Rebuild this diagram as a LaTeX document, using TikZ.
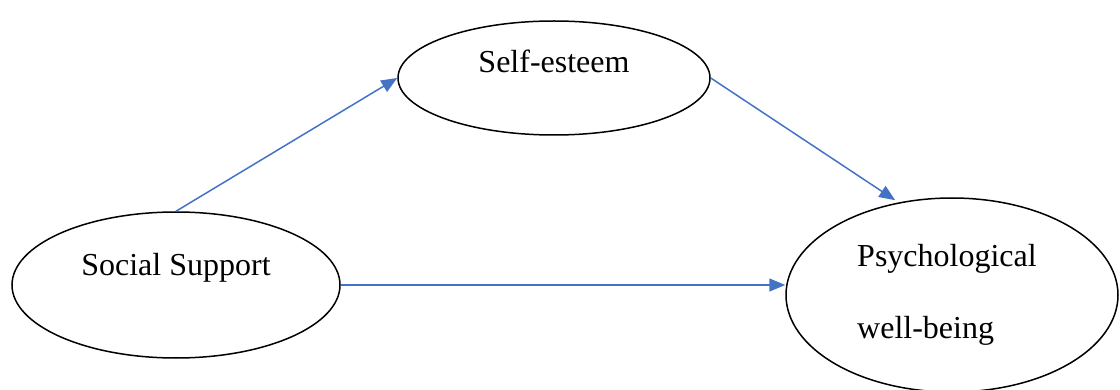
\documentclass[tikz,border=0pt]{standalone}
\usepackage{fontspec}
\setmainfont{Liberation Serif}
\usetikzlibrary{shapes.geometric,arrows.meta}
\begin{document}
\begin{tikzpicture}[x=1pt,y=-1pt,
  oval/.style={draw=black,line width=1.5pt,ellipse,inner sep=0pt},
  lbl/.style={font=\fontsize{32}{36}\selectfont,inner sep=0pt},
  conn/.style={draw={rgb,255:red,68;green,114;blue,196},line width=1.5pt,
    -{Triangle[length=16pt,width=13pt]}}]
\useasboundingbox (0,0) rectangle (1120,390);
\node[oval,minimum width=312pt,minimum height=114pt] (se) at (554,78) {};
\node[oval,minimum width=328pt,minimum height=146pt] (ss) at (176,285) {};
\node[oval,minimum width=332pt,minimum height=194pt] (pw) at (952,295) {};
\node[lbl] (tse) at (554,61) {Self-esteem};
\node[lbl] (tss) at (176,268) {Social Support};
\node[lbl,anchor=base west] (tp1) at (857,267) {Psychological};
\node[lbl,anchor=base west] (tp2) at (857,338) {well-being};
\draw[conn] (ss.north) -- (se.west);
\draw[conn,shorten >=4pt] (se.east) -- (pw.120);
\draw[conn] (ss.east) -- (ss.east -| pw.west);
\end{tikzpicture}
\end{document}
